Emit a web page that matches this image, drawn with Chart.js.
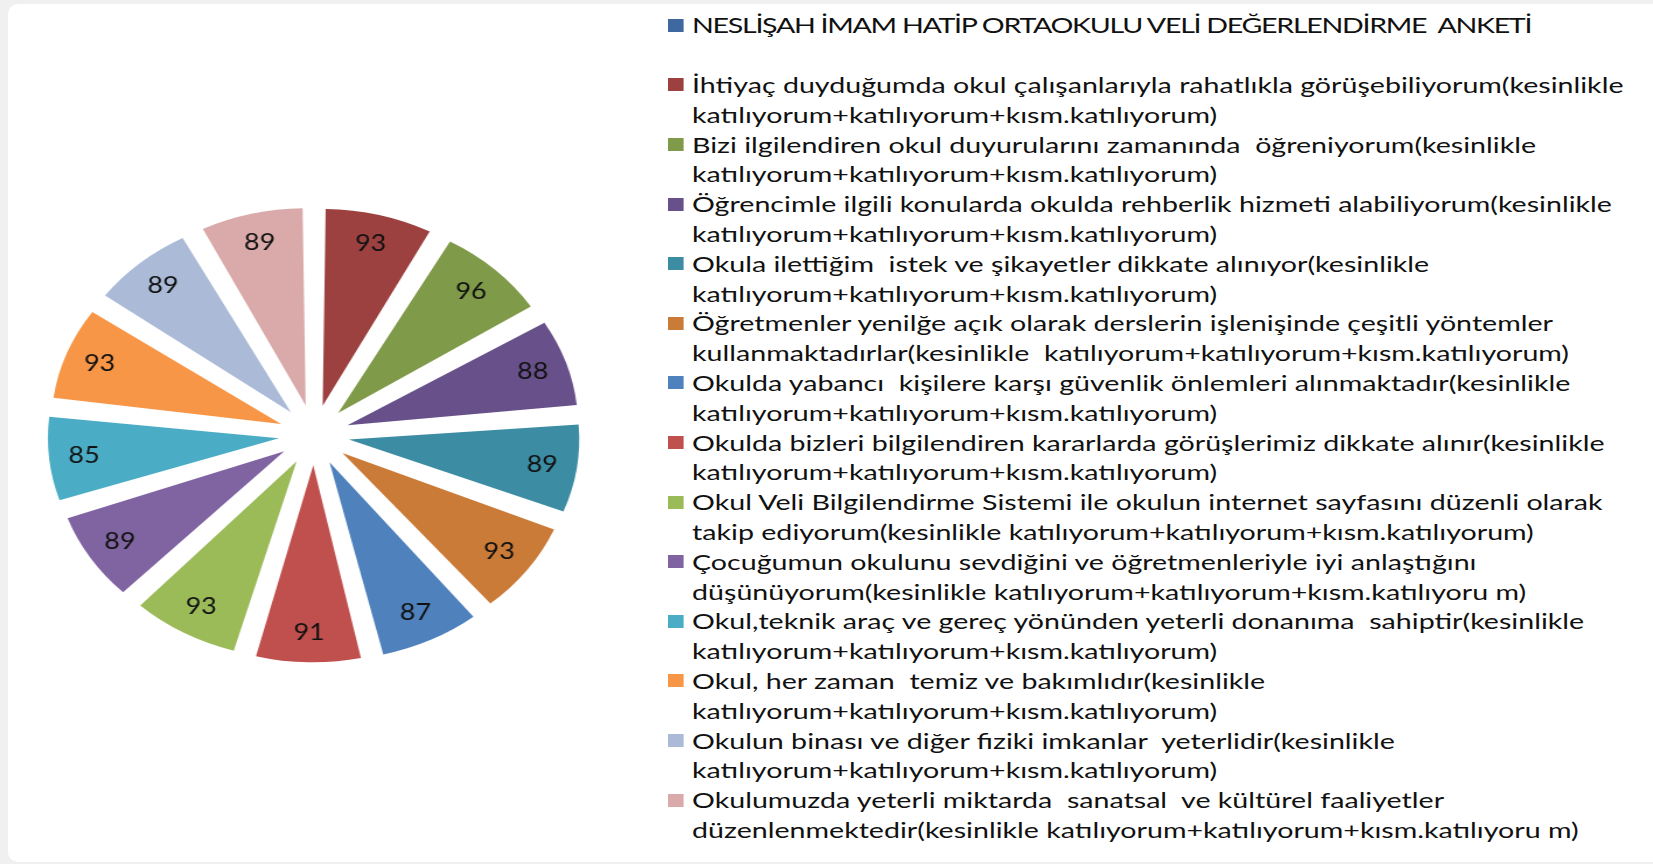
<!DOCTYPE html>
<html>
<head>
<meta charset="utf-8">
<script src="https://cdn.jsdelivr.net/npm/chart.js@4.4.1/dist/chart.umd.min.js"></script>
<style>
  html, body { margin: 0; padding: 0; }
  body { width: 1653px; height: 864px; background: #f0f0f0; overflow: hidden; position: relative; }
  #card { position: absolute; left: 8px; top: 4px; width: 1680px; height: 858px; background: #fff; border-radius: 10px; }
  #pieBox { position: absolute; left: 63.5px; top: 184.6px; width: 500px; height: 500px; transform: scaleX(1.167); transform-origin: 50% 50%; }
  #legend { position: absolute; left: 668px; top: 10.4px; transform: scaleX(1.30); transform-origin: 0 0;
            font-family: Lato, sans-serif; font-size: 22px; line-height: 29.8px; color: #111; white-space: pre; }
  .item { position: relative; padding-left: 18.5px; }
  .item:first-child div { letter-spacing: -1px; }
  .mark { position: absolute; left: 0; top: 8.4px; width: 11.5px; height: 13px; }
</style>
</head>
<body>
<div id="card"></div>
<div id="pieBox"><canvas id="pieChart"></canvas></div>
<div id="legend"></div>
<script>
// legend entries, already broken into the lines used in the original
var categories = [
  ['NESLİŞAH İMAM HATİP ORTAOKULU VELİ DEĞERLENDİRME  ANKETİ', ''],
  ['İhtiyaç duyduğumda okul çalışanlarıyla rahatlıkla görüşebiliyorum(kesinlikle', 'katılıyorum+katılıyorum+kısm.katılıyorum)'],
  ['Bizi ilgilendiren okul duyurularını zamanında  öğreniyorum(kesinlikle', 'katılıyorum+katılıyorum+kısm.katılıyorum)'],
  ['Öğrencimle ilgili konularda okulda rehberlik hizmeti alabiliyorum(kesinlikle', 'katılıyorum+katılıyorum+kısm.katılıyorum)'],
  ['Okula ilettiğim  istek ve şikayetler dikkate alınıyor(kesinlikle', 'katılıyorum+katılıyorum+kısm.katılıyorum)'],
  ['Öğretmenler yenilğe açık olarak derslerin işlenişinde çeşitli yöntemler', 'kullanmaktadırlar(kesinlikle  katılıyorum+katılıyorum+kısm.katılıyorum)'],
  ['Okulda yabancı  kişilere karşı güvenlik önlemleri alınmaktadır(kesinlikle', 'katılıyorum+katılıyorum+kısm.katılıyorum)'],
  ['Okulda bizleri bilgilendiren kararlarda görüşlerimiz dikkate alınır(kesinlikle', 'katılıyorum+katılıyorum+kısm.katılıyorum)'],
  ['Okul Veli Bilgilendirme Sistemi ile okulun internet sayfasını düzenli olarak', 'takip ediyorum(kesinlikle katılıyorum+katılıyorum+kısm.katılıyorum)'],
  ['Çocuğumun okulunu sevdiğini ve öğretmenleriyle iyi anlaştığını', 'düşünüyorum(kesinlikle katılıyorum+katılıyorum+kısm.katılıyoru m)'],
  ['Okul,teknik araç ve gereç yönünden yeterli donanıma  sahiptir(kesinlikle', 'katılıyorum+katılıyorum+kısm.katılıyorum)'],
  ['Okul, her zaman  temiz ve bakımlıdır(kesinlikle', 'katılıyorum+katılıyorum+kısm.katılıyorum)'],
  ['Okulun binası ve diğer fiziki imkanlar  yeterlidir(kesinlikle', 'katılıyorum+katılıyorum+kısm.katılıyorum)'],
  ['Okulumuzda yeterli miktarda  sanatsal  ve kültürel faaliyetler', 'düzenlenmektedir(kesinlikle katılıyorum+katılıyorum+kısm.katılıyoru m)']
];
var values = [0, 93, 96, 88, 89, 93, 87, 91, 93, 89, 85, 93, 89, 89];
var colors = ['#3f68a0', '#9d4140', '#7f9a48', '#68518a', '#3c8ca3', '#cb7b38',
              '#4f81bd', '#c0504d', '#9bbb59', '#8064a2', '#4bacc6', '#f79646',
              '#aabad7', '#d9aaa9'];

// html legend
var legend = document.getElementById('legend');
categories.forEach(function (lines, i) {
  var item = document.createElement('div');
  item.className = 'item';
  var mark = document.createElement('span');
  mark.className = 'mark';
  mark.style.background = colors[i];
  item.appendChild(mark);
  lines.forEach(function (t) {
    var l = document.createElement('div');
    l.textContent = t === '' ? ' ' : t;
    item.appendChild(l);
  });
  legend.appendChild(item);
});

// numbers written inside the slices
var valueLabels = {
  id: 'valueLabels',
  afterDatasetsDraw: function (chart) {
    var ctx = chart.ctx;
    var meta = chart.getDatasetMeta(0);
    ctx.save();
    ctx.font = '23px Lato';
    ctx.fillStyle = '#111';
    ctx.textAlign = 'center';
    ctx.textBaseline = 'middle';
    meta.data.forEach(function (arc, i) {
      if (!values[i]) return;
      var mid = (arc.startAngle + arc.endAngle) / 2;
      // same shift the arc element uses when it draws an offset slice
      var circ = arc.endAngle - arc.startAngle;
      var shift = arc.options.offset / 4 * (2 - Math.sin(Math.min(Math.PI, circ)));
      var r = arc.outerRadius + shift - 30;
      ctx.fillText(values[i], arc.x + Math.cos(mid) * r, arc.y + Math.sin(mid) * r);
    });
    ctx.restore();
  }
};

var pieChart = new Chart(document.getElementById('pieChart'), {
  type: 'pie',
  data: {
    labels: categories,
    datasets: [{
      data: values,
      backgroundColor: colors,
      borderWidth: 0,
      offset: 121,
      hoverOffset: 0
    }]
  },
  options: {
    responsive: true,
    maintainAspectRatio: false,
    animation: false,
    devicePixelRatio: 1,
    radius: 181,
    layout: { padding: 0 },
    plugins: {
      legend: { display: false },
      tooltip: { enabled: false }
    }
  },
  plugins: [valueLabels]
});
</script>
</body>
</html>
